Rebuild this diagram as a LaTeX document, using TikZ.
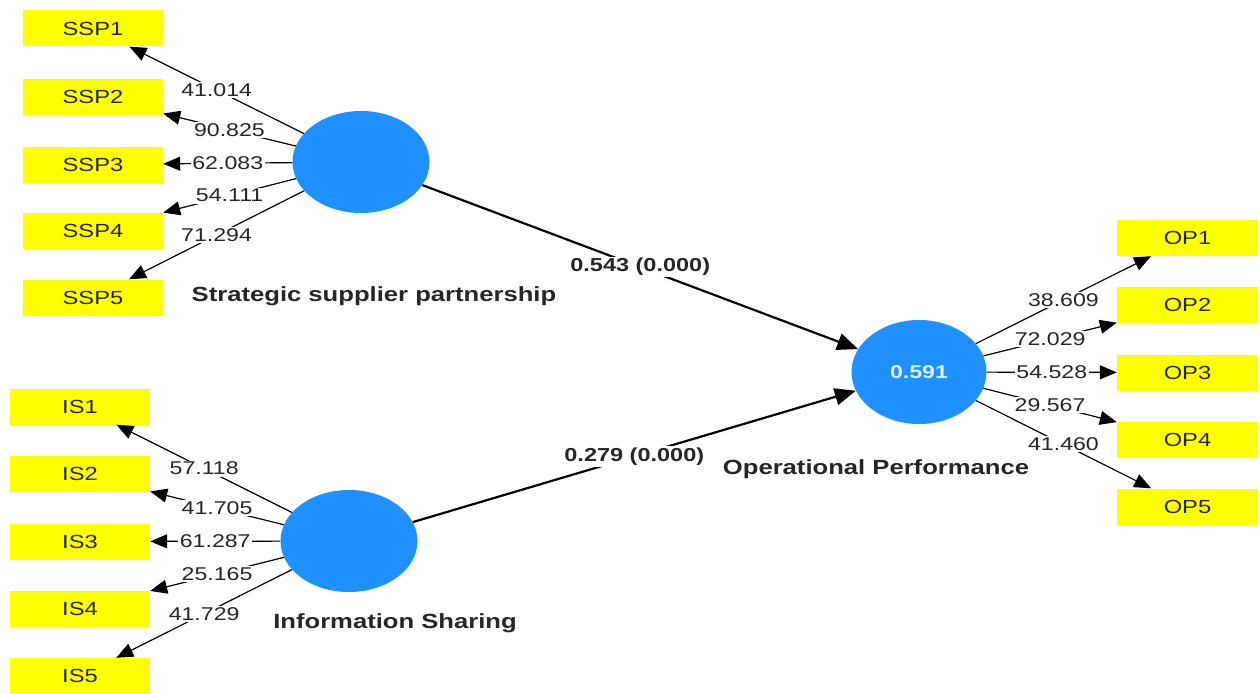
\documentclass[tikz,border=0pt]{standalone}
\usepackage{fontspec}
\usetikzlibrary{arrows.meta,shapes.geometric}
\newfontfamily\lsans[FakeStretch=1.25]{Liberation Sans}
\definecolor{boxyellow}{RGB}{255,255,0}
\definecolor{lvblue}{RGB}{30,144,255}
\definecolor{rtext}{RGB}{225,242,255}
\tikzset{
  ind/.style={fill=boxyellow, minimum width=140pt, minimum height=36pt, inner sep=0pt,
    font=\lsans\fontsize{19}{20}\selectfont, text=black!85},
  lv/.style={ellipse, fill=lvblue, minimum width=137pt, minimum height=102pt, inner sep=0pt},
  load/.style={line width=1.2pt, -{Triangle[length=17pt,width=14pt]}},
  path/.style={line width=2.2pt, -{Triangle[length=21pt,width=17pt]}},
  lab/.style={fill=white, inner sep=1.5pt, font=\lsans\fontsize{18.5}{20}\selectfont, text=black!85},
  plab/.style={fill=white, inner sep=1.5pt, font=\lsans\bfseries\fontsize{18.8}{20}\selectfont, text=black!85},
  title/.style={font=\lsans\bfseries\fontsize{20.5}{22}\selectfont, text=black!85}
}
\begin{document}
\begin{tikzpicture}[x=1pt,y=-1pt]
\useasboundingbox[fill=white] (0,0) rectangle (1260,693);
% indicators
\node[ind] (s1) at (93,28.5) {SSP1};
\node[ind] (s2) at (93,96.5) {SSP2};
\node[ind] (s3) at (93,164.5) {SSP3};
\node[ind] (s4) at (93,230.5) {SSP4};
\node[ind] (s5) at (93,297.5) {SSP5};
\node[ind] (i1) at (80,406.5) {IS1};
\node[ind] (i2) at (80,474) {IS2};
\node[ind] (i3) at (80,541.5) {IS3};
\node[ind] (i4) at (80,608.5) {IS4};
\node[ind] (i5) at (80,676) {IS5};
\node[ind, minimum width=141pt] (o1) at (1187.5,238) {OP1};
\node[ind, minimum width=141pt] (o2) at (1187.5,305) {OP2};
\node[ind, minimum width=141pt] (o3) at (1187.5,372.5) {OP3};
\node[ind, minimum width=141pt] (o4) at (1187.5,440) {OP4};
\node[ind, minimum width=141pt] (o5) at (1187.5,506.5) {OP5};
% latent variables
\node[lv] (ssp) at (361,162) {};
\node[lv] (is) at (349,541) {};
\node[lv, minimum width=135pt, minimum height=104pt] (op) at (919,372)
  {\textcolor{rtext}{\lsans\bfseries\fontsize{18.5}{20}\selectfont 0.591}};
% titles
\node[title] (tssp) at (374,296) {Strategic supplier partnership};
\node[title] (tis) at (395,623) {Information Sharing};
\node[title] (top) at (876,469) {Operational Performance};
% loadings
\draw[load] (ssp) -- node[lab]{41.014} (s1);
\draw[load] (ssp) -- node[lab]{90.825} (s2);
\draw[load] (ssp) -- node[lab]{62.083} (s3);
\draw[load] (ssp) -- node[lab]{54.111} (s4);
\draw[load] (ssp) -- node[lab]{71.294} (s5);
\draw[load] (is) -- node[lab]{57.118} (i1);
\draw[load] (is) -- node[lab]{41.705} (i2);
\draw[load] (is) -- node[lab]{61.287} (i3);
\draw[load] (is) -- node[lab]{25.165} (i4);
\draw[load] (is) -- node[lab]{41.729} (i5);
\draw[load] (op) -- node[lab]{38.609} (o1);
\draw[load] (op) -- node[lab]{72.029} (o2);
\draw[load] (op) -- node[lab]{54.528} (o3);
\draw[load] (op) -- node[lab]{29.567} (o4);
\draw[load] (op) -- node[lab]{41.460} (o5);
% paths
\draw[path] (ssp) -- node[plab]{0.543 (0.000)} (op);
\draw[path] (is) -- node[plab]{0.279 (0.000)} (op);
\end{tikzpicture}
\end{document}
